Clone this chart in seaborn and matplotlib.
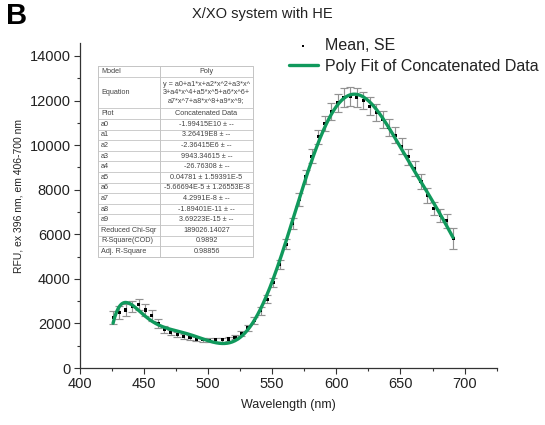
import numpy as np
import pandas as pd
import matplotlib
matplotlib.use("Agg")
import matplotlib.pyplot as plt
from matplotlib.ticker import MultipleLocator
import seaborn as sns

# ---------------- data ----------------
wavelength = [426, 431, 436, 441, 446, 451, 456, 461, 466, 471, 476, 481, 486, 491,
              496, 501, 506, 511, 516, 521, 526, 531, 536, 541, 546, 551, 556, 561,
              566, 571, 576, 581, 586, 591, 596, 601, 606, 611, 616, 621, 626, 631,
              636, 641, 646, 651, 656, 661, 666, 671, 676, 681, 686, 691]
rfu_mean = [2270, 2500, 2600, 2750, 2850, 2600, 2350, 2000, 1720, 1600, 1500, 1420, 1370, 1300,
            1260, 1250, 1260, 1270, 1300, 1380, 1560, 1800, 2130, 2560, 3080, 3850, 4650, 5550,
            6500, 7550, 8570, 9500, 10370, 10970, 11500, 11900, 12150, 12200, 12150, 12000, 11750, 11450,
            11150, 10800, 10450, 9950, 9470, 8950, 8350, 7750, 7150, 6850, 6600, 5800]
rfu_se = [300, 280, 250, 250, 250, 250, 230, 200, 150, 120, 120, 100, 100, 100,
          90, 90, 90, 90, 100, 100, 120, 130, 150, 160, 180, 200, 200, 230,
          250, 280, 300, 320, 330, 350, 380, 400, 420, 430, 420, 400, 400, 380,
          380, 370, 360, 350, 340, 340, 340, 340, 300, 300, 300, 480]

x_ticks = [400, 450, 500, 550, 600, 650, 700]
y_ticks = [0, 2000, 4000, 6000, 8000, 10000, 12000, 14000]

title = "X/XO system with HE"
panel_letter = "B"
x_label = "Wavelength (nm)"
y_label = "RFU, ex 396 nm, em 406-700 nm"
legend_labels = ["Mean, SE", "Poly Fit of Concatenated Data"]

table_keys = ["Model", "Equation", "Plot", "a0", "a1", "a2", "a3", "a4", "a5", "a6",
              "a7", "a8", "a9", "Reduced Chi-Sqr", "R-Square(COD)", "Adj. R-Square"]
table_values = ["Poly",
                "y = a0+a1*x+a2*x^2+a3*x^\n3+a4*x^4+a5*x^5+a6*x^6+\na7*x^7+a8*x^8+a9*x^9;",
                "Concatenated Data",
                "-1.99415E10 \u00b1 --", "3.26419E8 \u00b1 --", "-2.36415E6 \u00b1 --",
                "9943.34615 \u00b1 --", "-26.76308 \u00b1 --", "0.04781 \u00b1 1.59391E-5",
                "-5.66694E-5 \u00b1 1.26553E-8", "4.2991E-8 \u00b1 --", "-1.89401E-11 \u00b1 --",
                "3.69223E-15 \u00b1 --", "189026.14027", "0.9892", "0.98856"]

# ---------------- styling ----------------
sns.set_theme(style="ticks")
plt.rcParams['font.family'] = ['Liberation Sans', 'DejaVu Sans']

W, H = 545, 425
fig = plt.figure(figsize=(W / 100, H / 100), dpi=100)
ax = fig.add_axes([79.7 / W, 57 / H, 417 / W, 325.4 / H])

df = pd.DataFrame({"wavelength": wavelength, "mean": rfu_mean, "se": rfu_se})

green = "#10995c"
ax.errorbar(df["wavelength"], df["mean"], yerr=df["se"], fmt="none",
            ecolor="#929292", elinewidth=0.85, capsize=3, capthick=0.85, zorder=2)
sns.scatterplot(data=df, x="wavelength", y="mean", marker="s", s=5, color="black",
                edgecolor="none", ax=ax, zorder=3, label=legend_labels[0])

fit = np.polynomial.Polynomial.fit(df["wavelength"], df["mean"], 9)
xf = np.linspace(min(wavelength), max(wavelength), 400)
sns.lineplot(x=xf, y=fit(xf), color=green, linewidth=2.4, ax=ax, zorder=4,
             label=legend_labels[1])

ax.set_xlim(400, 725)
ax.set_ylim(0, 14600)
ax.set_xticks(x_ticks)
ax.set_yticks(y_ticks)
ax.xaxis.set_minor_locator(MultipleLocator(25))
ax.yaxis.set_minor_locator(MultipleLocator(1000))
ax.tick_params(which="major", direction="out", length=4.5, width=0.8, colors="#333333",
               labelsize=10.5, labelcolor="#222222", pad=2)
ax.tick_params(which="minor", direction="out", length=2.5, width=0.8, colors="#333333")
sns.despine(ax=ax)
for s in ["left", "bottom"]:
    ax.spines[s].set_color("#333333")
    ax.spines[s].set_linewidth(0.9)

ax.set_xlabel(x_label, fontsize=9, color="#222222", labelpad=6)
ax.set_ylabel(y_label, fontsize=7.5, color="#222222")
ax.yaxis.set_label_coords(-0.135, 0.53)

leg = ax.legend(loc="upper left", bbox_to_anchor=(289 / W, 1 - 38 / H),
                bbox_transform=fig.transFigure, frameon=False, fontsize=11.5,
                handlelength=1.8, handletextpad=0.45, labelspacing=0.35,
                borderpad=0, borderaxespad=0, markerscale=0.7)
for t in leg.get_texts():
    t.set_color("#222222")

fig.text(262 / W, 1 - 14 / H, title, ha="center", va="center", fontsize=10.5, color="#222222")
fig.text(6 / W, 1 - 16 / H, panel_letter, ha="left", va="center", fontsize=21,
         fontweight="bold", color="black")

# ---------------- inset table (pixel coordinates) ----------------
tax = fig.add_axes([0, 0, 1, 1], facecolor="none")
tax.set_xlim(0, W)
tax.set_ylim(H, 0)
tax.axis("off")
left, mid, right, top, rh = 98, 160, 253, 66, 10.6
units = [3 if k == "Equation" else 1 for k in table_keys]
bottom = top + rh * sum(units)
lc = "#c4c4c4"
tax.fill_between([left, right], top, bottom, color="white", zorder=1)
tax.plot([left, right, right, left, left], [top, top, bottom, bottom, top], color=lc, lw=0.7, zorder=2)
tax.plot([mid, mid], [top, bottom], color=lc, lw=0.7, zorder=2)
yy = top
for k, v, u in zip(table_keys, table_values, units):
    yc = yy + rh * u / 2
    tax.text(left + 3, yc, k, ha="left", va="center", fontsize=5.2, color="#444444", zorder=3)
    tax.text((mid + right) / 2, yc, v, ha="center", va="center", fontsize=5.2,
             color="#444444", linespacing=1.25, zorder=3)
    yy += rh * u
    if yy < bottom - 0.1:
        tax.plot([left, right], [yy, yy], color=lc, lw=0.6, zorder=2)

fig.savefig("out.png", dpi=100)
